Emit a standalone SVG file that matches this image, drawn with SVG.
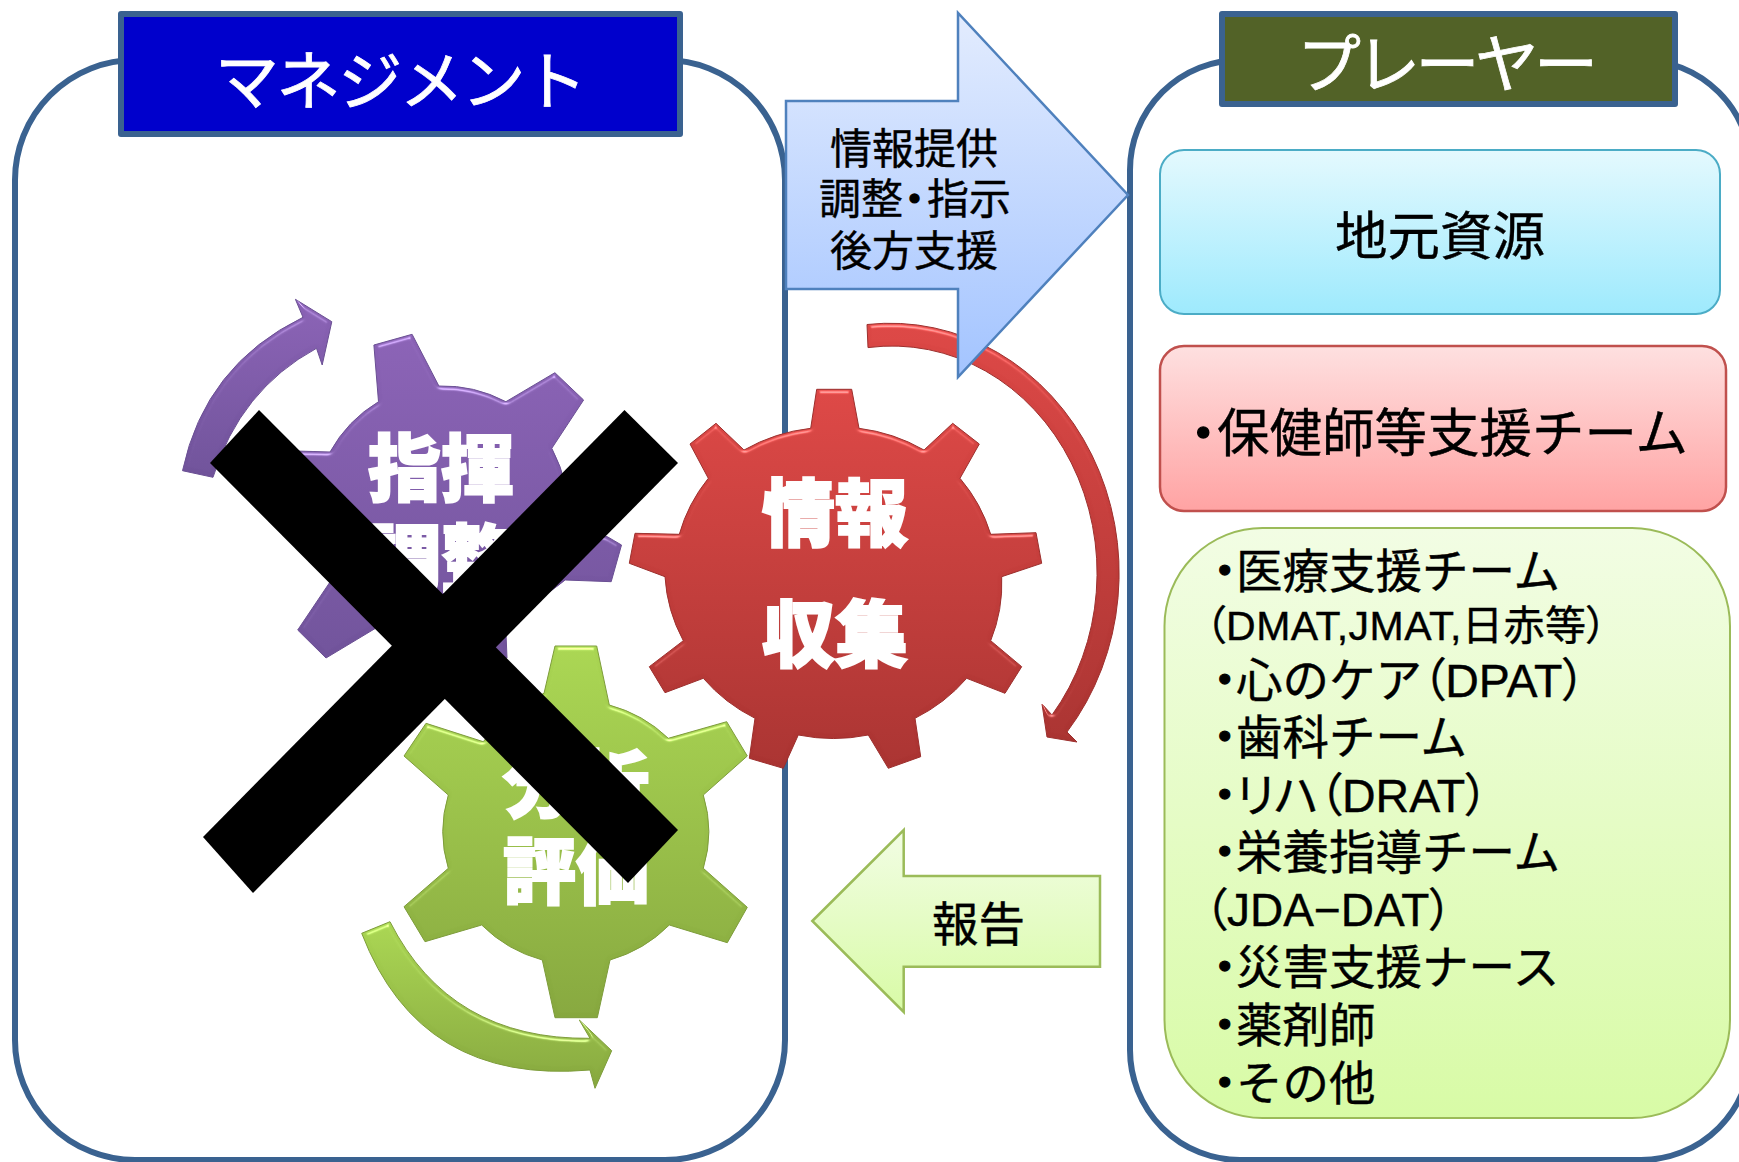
<svg xmlns="http://www.w3.org/2000/svg" width="1739" height="1162" viewBox="0 0 1739 1162">
<style>
text{font-family:"Liberation Sans","Noto Sans CJK JP",sans-serif;fill:#000;stroke:#000;stroke-width:.4}
.cont{fill:#fff;stroke:#3a6290;stroke-width:6}
.title{stroke:#3a6290;stroke-width:6;stroke-linejoin:round}
text.ttl{fill:#fff;stroke:#fff;stroke-width:.8;font-size:64px}
text.gt{fill:#fff;stroke:#fff;stroke-width:2;font-size:73px;font-weight:900;text-anchor:middle;font-family:"Noto Sans CJK JP",sans-serif}
.s42{font-size:42px}.s46{font-size:46.5px}.s52{font-size:52.5px}.s41{font-size:41px}.s45{font-size:46px}
.p{font-feature-settings:"palt"}
.d{font-feature-settings:"palt";stroke-width:1.4}
.blk{stroke-width:2.5;stroke-linejoin:miter}
.x{fill:#000}
</style>
<defs>
<linearGradient id="gBlue" x1="0" y1="0" x2="0" y2="1"><stop offset="0" stop-color="#e3ecfe"/><stop offset="1" stop-color="#a3c4ff"/></linearGradient>
<linearGradient id="gGreenA" x1="0" y1="0" x2="0" y2="1"><stop offset="0" stop-color="#f2fde4"/><stop offset="1" stop-color="#d8fba6"/></linearGradient>
<linearGradient id="gCyan" x1="0" y1="0" x2="0" y2="1"><stop offset="0" stop-color="#e4f9fe"/><stop offset="1" stop-color="#9eeafd"/></linearGradient>
<linearGradient id="gPink" x1="0" y1="0" x2="0" y2="1"><stop offset="0" stop-color="#fee0e0"/><stop offset="1" stop-color="#ffa3a3"/></linearGradient>
<linearGradient id="gRed" x1="0" y1="0" x2="0" y2="1"><stop offset="0" stop-color="#dc4745"/><stop offset="1" stop-color="#a93331"/></linearGradient>
<linearGradient id="gPurple" x1="0" y1="0" x2="0" y2="1"><stop offset="0" stop-color="#8a62b5"/><stop offset="1" stop-color="#6f5299"/></linearGradient>
<linearGradient id="gLime" x1="0" y1="0" x2="0" y2="1"><stop offset="0" stop-color="#a9d552"/><stop offset="1" stop-color="#86a73e"/></linearGradient>
<filter id="bevel" x="-5%" y="-5%" width="110%" height="110%" color-interpolation-filters="sRGB">
<feGaussianBlur in="SourceAlpha" stdDeviation="2" result="b"/>
<feSpecularLighting in="b" surfaceScale="5" specularConstant="0.6" specularExponent="22" lighting-color="#fff" result="sp"><feDistantLight azimuth="270" elevation="25"/></feSpecularLighting>
<feComposite in="sp" in2="SourceAlpha" operator="in" result="spi"/>
<feComposite in="SourceGraphic" in2="spi" operator="arithmetic" k1="0" k2="1" k3="0.6" k4="0"/>
</filter>
</defs>
<rect width="1739" height="1162" fill="#fff"/>
<g id="containers">
<rect id="management-frame" class="cont" x="15" y="60" width="770" height="1100" rx="120" ry="120"/>
<rect id="player-frame" class="cont" x="1130" y="60" width="621" height="1100" rx="110" ry="110"/>
</g>
<g id="management-title">
<rect class="title" x="121" y="14" width="559" height="120" fill="#0000cc"/>
<text class="ttl" x="215" y="104" textLength="372">マネジメント</text>
</g>
<g id="player-title">
<rect class="title" x="1222" y="14" width="453" height="90" fill="#526227"/>
<text class="ttl" x="1297" y="87" textLength="301">プレーヤー</text>
</g>
<g id="connectors">
<path id="arc-red" fill="url(#gRed)" stroke="#9c2f2d" stroke-width="1" filter="url(#bevel)" d="M867,324.5 A229,250 0 0 1 1067,732 L1077,742 L1047,737 L1042,704 L1052,715 A205,227 0 0 0 868,347.6 Z"/>
<path id="arc-purple" fill="url(#gPurple)" stroke="#6a4f93" stroke-width="1" filter="url(#bevel)" d="M182.5,470.7 Q205,365 303,317.3 L295.4,299.3 L331.8,321.7 L322.2,365 L316.5,348.3 Q240,390 213,477.3 Z"/>
<path id="arc-green" fill="url(#gLime)" stroke="#7d9c3a" stroke-width="1" filter="url(#bevel)" d="M361.7,933.3 Q420,1085 590,1070 L595,1088.3 L611.7,1050.7 L579.3,1020 L590,1038.3 Q450,1040 390,921.7 Z"/>
<path id="arrow-info" class="blk" fill="url(#gBlue)" stroke="#4f81bd" d="M786,101 H958 V13 L1128,195 L958,377 V289 H786 Z"/>
<path id="arrow-report" class="blk" fill="url(#gGreenA)" stroke="#9bbb59" d="M812.3,921 L903.7,830 V876 H1100 V966.7 H903.7 V1012 Z"/>
</g>
<g id="label-info">
<text class="s42" x="830" y="164">情報提供</text>
<text class="s42" y="214"><tspan x="819">調整</tspan><tspan class="d" x="904">・</tspan><tspan x="927">指示</tspan></text>
<text class="s42" x="830" y="266">後方支援</text>
</g>
<g id="label-report"><text class="s46" x="932" y="941">報告</text></g>
<g id="gear-purple">
<path fill="url(#gPurple)" stroke="#6a4f93" stroke-width="1" filter="url(#bevel)" d="M378.5,401.7 L373.9,345 L412.1,334.3 L438.9,386 A135,135 0 0 1 505.9,401.7 L554.9,372.7 L583.6,400 L551.8,448.3 A135,135 0 0 1 567,527 L607.3,536.7 L621.5,545 L611.2,581.7 L565.2,580 A135,135 0 0 1 505,610 L507,658 L470,672 L440,632 A135,135 0 0 1 376,628 L326,658 L297.7,630 L330,582 A135,135 0 0 1 310,520 L258,510 L262,450 L330,452 A135,135 0 0 1 378.5,401.7 Z"/>
<text class="gt" x="441" y="495">指揮</text>
<text class="gt" x="441" y="585">調整</text>
</g>
<g id="gear-red">
<path fill="url(#gRed)" stroke="#9c2f2d" stroke-width="1" filter="url(#bevel)" d="M810.7,428.3 L816.7,389.3 H851.7 L859,428.3 A168,160 0 0 1 924,450 L952.7,423.3 L979.3,444 L960,478.3 A168,160 0 0 1 990.7,534.3 L1036,532.7 L1041.7,563.3 L1001.7,576.7 A168,160 0 0 1 990.7,640.7 L1021.7,666.7 L1005,693.3 L966.7,678.3 A168,160 0 0 1 915,718.3 L920.7,756.7 L888.3,768.3 L868.3,735 A168,160 0 0 1 798.3,735 L783.3,768.3 L749.3,758.3 L755,718.3 A168,160 0 0 1 703.3,678.3 L665,692.7 L649.3,666.7 L683.3,640.7 A168,160 0 0 1 665,576.7 L629.3,563.3 L635,533.3 L679.3,534.3 A168,160 0 0 1 708.3,478.3 L690,444 L716,423.3 L744,450 A168,160 0 0 1 810.7,428.3 Z"/>
<text class="gt" x="835" y="540">情報</text>
<text class="gt" x="835" y="661">収集</text>
</g>
<g id="gear-green">
<path fill="url(#gLime)" stroke="#7d9c3a" stroke-width="1" filter="url(#bevel)" d="M544,693.3 L555,646 H596.7 L609.3,705 A135,130 0 0 1 668.3,738.3 L726.7,721.7 L747.3,756 L703.3,795 A135,130 0 0 1 703.3,868.3 L747.3,907.3 L727.3,942.7 L669.3,925 A135,130 0 0 1 610,960 L597.3,1017.7 H555 L542.3,960 A135,130 0 0 1 481.7,925 L425,941.7 L404,906.7 L448.3,868.3 A135,130 0 0 1 448.3,795 L404,756 L426,723.3 L483.3,741.7 A135,130 0 0 1 544,693.3 Z"/>
<text class="gt" x="576" y="811">分析</text>
<text class="gt" x="576" y="898">評価</text>
</g>
<g id="box-local">
<rect x="1160" y="150" width="560" height="164" rx="24" ry="24" fill="url(#gCyan)" stroke="#4bacc6" stroke-width="2"/>
<text class="s52" x="1335" y="255">地元資源</text>
</g>
<g id="box-nurse">
<rect x="1160" y="346" width="566" height="165" rx="24" ry="24" fill="url(#gPink)" stroke="#c0504d" stroke-width="2.5"/>
<text class="s52" y="452"><tspan class="d" x="1190">・</tspan><tspan x="1217">保健師等支援チーム</tspan></text>
</g>
<g id="box-teams">
<rect x="1164.5" y="528" width="565.5" height="590" rx="98" ry="98" fill="url(#gGreenA)" stroke="#9bbb59" stroke-width="2"/>
<text class="s46" y="588"><tspan class="d" x="1213">・</tspan><tspan x="1236">医療支援チーム</tspan></text>
<text class="s41 p" x="1205" y="640" textLength="402">（DMAT,JMAT,日赤等）</text>
<text class="s46" y="697"><tspan class="d" x="1213">・</tspan><tspan x="1236">心のケア</tspan><tspan class="p">（DPAT）</tspan></text>
<text class="s46" y="754"><tspan class="d" x="1213">・</tspan><tspan x="1236">歯科チーム</tspan></text>
<text class="s46" y="812"><tspan class="d" x="1213">・</tspan><tspan class="p" x="1236">リハ（DRAT）</tspan></text>
<text class="s46" y="869"><tspan class="d" x="1213">・</tspan><tspan x="1236">栄養指導チーム</tspan></text>
<text class="s45 p" x="1204" y="926">（JDA−DAT）</text>
<text class="s46" y="984"><tspan class="d" x="1213">・</tspan><tspan x="1236">災害支援ナース</tspan></text>
<text class="s46" y="1042"><tspan class="d" x="1213">・</tspan><tspan x="1236">薬剤師</tspan></text>
<text class="s46" y="1100"><tspan class="d" x="1213">・</tspan><tspan x="1236">その他</tspan></text>
</g>
<g id="cross">
<polygon class="x" points="259,410 210,463 628,883 678,830"/>
<polygon class="x" points="624.5,410 678,463 253,893 203,837"/>
</g>
</svg>
